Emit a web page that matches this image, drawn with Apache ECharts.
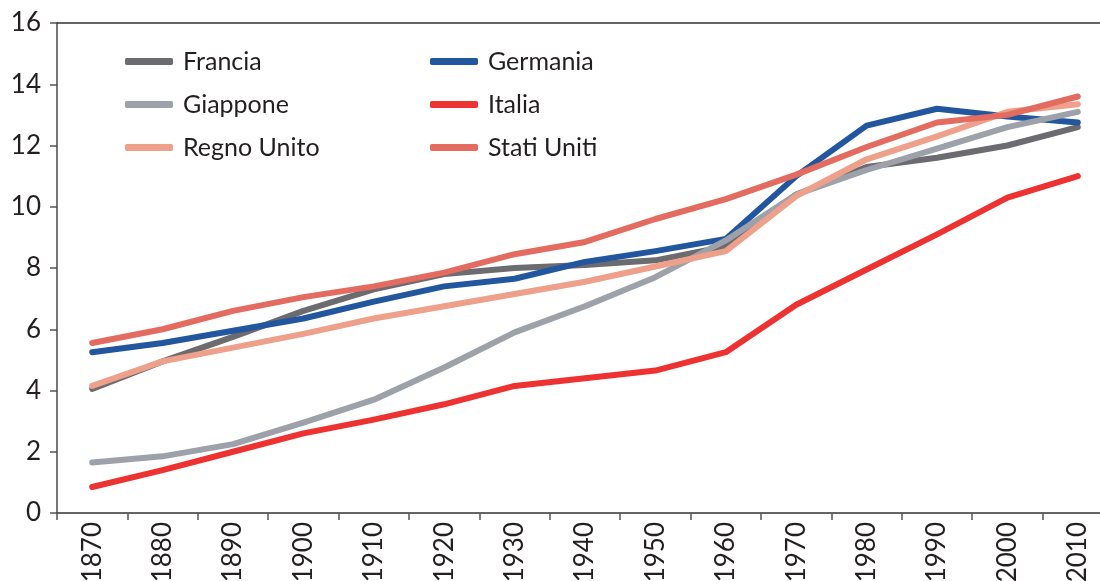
<!DOCTYPE html>
<html>
<head>
<meta charset="utf-8">
<script src="https://cdn.jsdelivr.net/npm/echarts@6/dist/echarts.min.js"></script>
<style>
  html,body{margin:0;padding:0;background:#fff;}
  #chart{width:1100px;height:581px;}
</style>
</head>
<body>
<div id="chart"></div>
<script>
// anni
var years = ['1870','1880','1890','1900','1910','1920','1930','1940','1950','1960','1970','1980','1990','2000','2010'];

var francia    = [4.05, 4.95, 5.75, 6.6, 7.3, 7.8, 8.0, 8.1, 8.25, 8.7, 10.4, 11.3, 11.6, 12.0, 12.6];
var germania   = [5.25, 5.55, 5.95, 6.35, 6.9, 7.4, 7.65, 8.2, 8.55, 8.95, 11.0, 12.65, 13.2, 12.95, 12.75];
var giappone   = [1.65, 1.85, 2.25, 2.95, 3.7, 4.75, 5.9, 6.75, 7.7, 8.9, 10.4, 11.2, 11.9, 12.6, 13.1];
var italia     = [0.85, 1.4, 2.0, 2.6, 3.05, 3.55, 4.15, 4.4, 4.65, 5.25, 6.8, 7.95, 9.1, 10.3, 11.0];
var regnoUnito = [4.15, 4.95, 5.4, 5.85, 6.35, 6.75, 7.15, 7.55, 8.05, 8.55, 10.35, 11.55, 12.3, 13.1, 13.35];
var statiUniti = [5.55, 6.0, 6.6, 7.05, 7.4, 7.85, 8.45, 8.85, 9.6, 10.25, 11.05, 11.95, 12.75, 13.0, 13.6];

var yTicks = [0, 2, 4, 6, 8, 10, 12, 14, 16];

var font = 'Lato, "DejaVu Sans", sans-serif';

function serie(name, data, color){
  return {
    name: name,
    type: 'line',
    data: data,
    symbol: 'none',
    smooth: false,
    lineStyle: { color: color, width: 6, cap: 'round', join: 'round' },
    itemStyle: { color: color }
  };
}

var chart = echarts.init(document.getElementById('chart'));

var legendBase = {
  orient: 'vertical',
  top: 44,
  itemWidth: 48,
  itemHeight: 7,
  itemGap: 18,
  icon: 'roundRect',
  textStyle: { fontFamily: font, fontSize: 25, color: '#231f20', lineHeight: 24, padding: [0,0,0,5] }
};

chart.setOption({
  animation: false,
  backgroundColor: '#fff',
  legend: [
    Object.assign({}, legendBase, { left: 120, data: ['Francia','Giappone','Regno Unito'] }),
    Object.assign({}, legendBase, { left: 425, data: ['Germania','Italia','Stati Uniti'] })
  ],
  grid: { left: 57, right: -13, top: 23, bottom: 68, outerBoundsMode: 'none', containLabel: false },
  xAxis: [{
    type: 'category',
    data: years,
    boundaryGap: true,
    axisLine: { show: true, lineStyle: { color: '#333', width: 1.5 } },
    axisTick: { show: true, length: 7, alignWithLabel: false, lineStyle: { color: '#555', width: 1.5 } },
    axisLabel: { rotate: 90, interval: 0, margin: 9, fontFamily: font, fontSize: 26, color: '#231f20' },
    splitLine: { show: false }
  }, {
    type: 'category',
    data: years,
    position: 'top',
    axisLine: { show: true, lineStyle: { color: '#333', width: 1.5 } },
    axisTick: { show: false },
    axisLabel: { show: false },
    splitLine: { show: false }
  }],
  yAxis: {
    type: 'value',
    min: yTicks[0],
    max: yTicks[yTicks.length - 1],
    interval: 2,
    axisLine: { show: true, lineStyle: { color: '#777', width: 2 } },
    axisTick: { show: true, length: 7, lineStyle: { color: '#555', width: 1.5 } },
    axisLabel: { margin: 16, fontFamily: font, fontSize: 26, color: '#231f20' },
    splitLine: { show: false }
  },
  series: [
    serie('Francia', francia, '#6b6b70'),
    serie('Germania', germania, '#22579f'),
    serie('Giappone', giappone, '#9da1a9'),
    serie('Italia', italia, '#ee3131'),
    serie('Regno Unito', regnoUnito, '#eea08a'),
    serie('Stati Uniti', statiUniti, '#e36b60')
  ]
});
</script>
</body>
</html>
